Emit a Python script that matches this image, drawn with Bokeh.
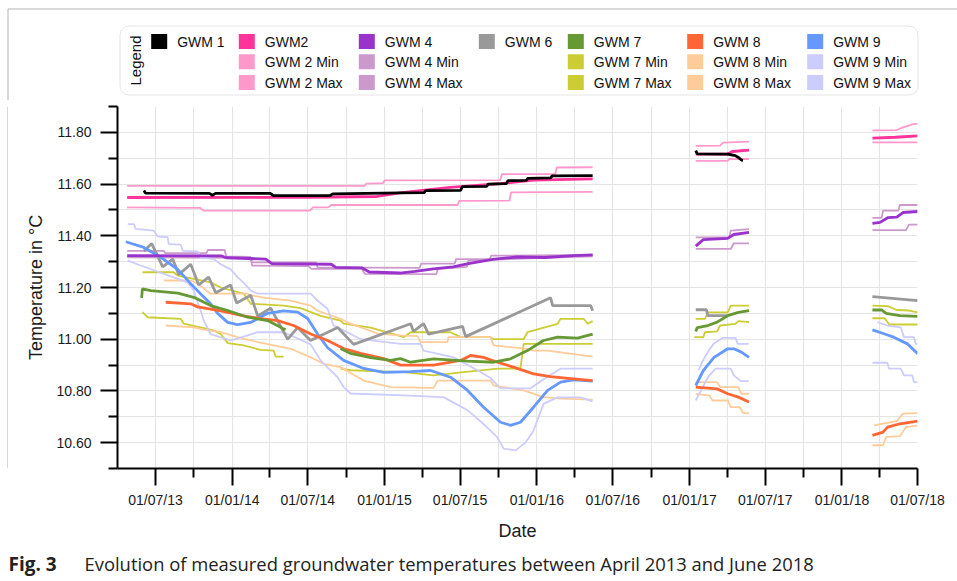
import math
import pandas as pd
from bokeh.plotting import figure
from bokeh.layouts import column, row
from bokeh.models import (Range1d, FixedTicker, DatetimeTickFormatter,
                          PrintfTickFormatter, BoxAnnotation)
from bokeh.core.properties import value
from bokeh.embed import file_html
from bokeh.resources import INLINE

NaN = float("nan")

# ---------------- data (time in decimal years, temperature in °C) ----------------
GWM1_T = [2013.42, 2013.43, 2013.85, 2013.87, 2013.89, 2014.25, 2014.27, 2014.64, 2014.66, 2015.10, 2015.26,
          2015.27, 2015.50, 2015.51, 2015.67, 2015.68, 2015.80, 2015.81, 2015.93, 2015.94, 2016.09, 2016.10,
          2016.365, NaN, 2017.04, 2017.05, 2017.25, 2017.30, 2017.32, 2017.34, 2017.35]
GWM1_V = [11.575, 11.565, 11.564, 11.557, 11.564, 11.564, 11.555, 11.555, 11.562, 11.566, 11.567,
          11.575, 11.576, 11.590, 11.591, 11.600, 11.602, 11.613, 11.614, 11.622, 11.624, 11.632,
          11.633, NaN, 11.729, 11.717, 11.716, 11.710, 11.703, 11.693, 11.692]

GWM2_T = [2013.31, 2014.50, 2014.95, 2015.10, 2015.43, 2015.76, 2015.98, 2016.365, NaN,
          2017.04, 2017.25, 2017.28, 2017.39, NaN, 2018.20, 2018.35, 2018.497]
GWM2_V = [11.548, 11.549, 11.552, 11.566, 11.587, 11.602, 11.615, 11.620, NaN,
          11.716, 11.716, 11.726, 11.731, NaN, 11.778, 11.781, 11.786]

GWM2_MAX_T = [2013.31, 2014.87, 2014.88, 2014.99, 2015.00, 2015.76, 2015.77, 2016.12, 2016.13, 2016.365, NaN,
              2017.04, 2017.20, 2017.22, 2017.39, NaN, 2018.20, 2018.36, 2018.40, 2018.47, 2018.497]
GWM2_MAX_V = [11.593, 11.593, 11.602, 11.604, 11.614, 11.615, 11.638, 11.639, 11.664, 11.665, NaN,
              11.748, 11.749, 11.760, 11.764, NaN, 11.808, 11.809, 11.819, 11.832, 11.834]

GWM2_MIN_T = [2013.31, 2013.79, 2013.81, 2014.51, 2014.53, 2014.63, 2014.65, 2015.48, 2015.49, 2015.82, 2015.83,
              2016.365, NaN, 2017.04, 2017.25, 2017.26, 2017.39, NaN, 2018.20, 2018.497]
GWM2_MIN_V = [11.510, 11.508, 11.497, 11.497, 11.510, 11.510, 11.519, 11.519, 11.535, 11.536, 11.568,
              11.570, NaN, 11.690, 11.690, 11.697, 11.697, NaN, 11.761, 11.761]

GWM4_T = [2013.31, 2013.93, 2013.96, 2014.22, 2014.26, 2014.65, 2014.68, 2014.85, 2014.90, 2015.10, 2015.20,
          2015.32, 2015.45, 2015.55, 2015.72, 2015.87, 2016.05, 2016.24, 2016.365, NaN,
          2017.04, 2017.09, 2017.25, 2017.29, 2017.39, NaN, 2018.20, 2018.25, 2018.30, 2018.36, 2018.40, 2018.497]
GWM4_V = [11.323, 11.322, 11.315, 11.310, 11.292, 11.290, 11.278, 11.276, 11.260, 11.256, 11.262,
          11.272, 11.280, 11.292, 11.310, 11.318, 11.316, 11.323, 11.326, NaN,
          11.360, 11.385, 11.390, 11.405, 11.413, NaN, 11.448, 11.452, 11.470, 11.472, 11.490, 11.494]

GWM4_MAX_T = [2013.31, 2013.55, 2013.56, 2013.83, 2013.84, 2013.95, 2013.96, 2014.12, 2014.13, 2014.55, 2014.56,
              2015.23, 2015.24, 2015.46, 2015.47, 2015.69, 2015.70, 2016.365, NaN,
              2017.04, 2017.26, 2017.27, 2017.39, NaN, 2018.20, 2018.26, 2018.27, 2018.37, 2018.38, 2018.497]
GWM4_MAX_V = [11.342, 11.342, 11.333, 11.333, 11.345, 11.345, 11.320, 11.318, 11.297, 11.297, 11.278,
              11.276, 11.292, 11.292, 11.310, 11.310, 11.323, 11.326, NaN,
              11.394, 11.395, 11.420, 11.426, NaN, 11.469, 11.469, 11.497, 11.497, 11.519, 11.519]

GWM4_MIN_T = [2013.31, 2014.12, 2014.13, 2014.50, 2014.52, 2014.85, 2014.87, 2015.34, 2015.35, 2015.54, 2015.55,
              2016.20, 2016.365, NaN, 2017.04, 2017.27, 2017.29, 2017.39, NaN, 2018.20, 2018.42, 2018.44, 2018.497]
GWM4_MIN_V = [11.317, 11.315, 11.285, 11.283, 11.272, 11.272, 11.253, 11.252, 11.272, 11.280, 11.304,
              11.318, 11.320, NaN, 11.349, 11.349, 11.371, 11.371, NaN, 11.422, 11.422, 11.443, 11.443]

GWM6_T = [2013.419, 2013.471, 2013.543, 2013.609, 2013.648, 2013.727, 2013.780, 2013.845, 2013.891, 2013.989,
          2014.029, 2014.121, 2014.167, 2014.252, 2014.364, 2014.429, 2014.514, 2014.692, 2014.797, 2015.171,
          2015.190, 2015.256, 2015.289, 2015.512, 2015.532, 2016.090, 2016.103, 2016.352, 2016.365, NaN,
          2017.04, 2017.11, 2017.12, 2017.25, NaN, 2018.20, 2018.497]
GWM6_V = [11.34, 11.37, 11.28, 11.31, 11.25, 11.29, 11.21, 11.24, 11.18, 11.21,
          11.14, 11.17, 11.09, 11.12, 11.00, 11.045, 10.995, 11.045, 10.98, 11.06,
          11.03, 11.06, 11.02, 11.05, 11.01, 11.16, 11.13, 11.13, 11.11, NaN,
          11.114, 11.114, 11.091, 11.091, NaN, 11.165, 11.149]

GWM7_T = [2013.405, 2013.41, 2013.465, 2013.642, 2013.747, 2013.858, 2013.970, 2014.101, 2014.232, 2014.337,
          2014.35, NaN, 2014.711, 2014.777, 2014.908, 2015.039, 2015.105, 2015.171, 2015.322, 2015.545,
          2015.716, 2015.827, 2015.938, 2016.043, 2016.135, 2016.266, 2016.365, NaN,
          2017.04, 2017.05, 2017.12, 2017.18, 2017.25, 2017.32, 2017.39, NaN,
          2018.20, 2018.26, 2018.29, 2018.38, 2018.497]
GWM7_V = [11.16, 11.195, 11.188, 11.178, 11.162, 11.13, 11.111, 11.085, 11.072, 11.04,
          11.037, NaN, 10.964, 10.945, 10.929, 10.918, 10.925, 10.911, 10.924, 10.915,
          10.911, 10.924, 10.956, 10.995, 11.008, 11.004, 11.02, NaN,
          11.03, 11.045, 11.053, 11.066, 11.091, 11.104, 11.111, NaN,
          11.113, 11.113, 11.10, 11.091, 11.088]

GWM7_MAX_T = [2013.41, 2013.615, 2013.642, 2013.747, 2013.858, 2013.924, 2014.075, 2014.121, 2014.337, 2014.449,
              2014.58, 2014.711, 2014.731, 2014.908, 2015.059, 2015.125, 2015.171, 2015.433, 2015.499, 2015.695,
              2015.716, 2015.913, 2015.938, 2016.135, 2016.155, 2016.306, 2016.332, 2016.365, NaN,
              2017.04, 2017.10, 2017.12, 2017.25, 2017.27, 2017.39, NaN,
              2018.20, 2018.30, 2018.36, 2018.44, 2018.497]
GWM7_MAX_V = [11.259, 11.259, 11.246, 11.233, 11.22, 11.20, 11.176, 11.137, 11.13, 11.12,
              11.09, 11.072, 11.06, 11.045, 11.02, 11.008, 11.027, 11.027, 11.008, 11.008,
              11.0, 11.0, 11.027, 11.059, 11.079, 11.079, 11.06, 11.07, NaN,
              11.079, 11.079, 11.104, 11.104, 11.13, 11.13, NaN,
              11.13, 11.128, 11.113, 11.111, 11.104]

GWM7_MIN_T = [2013.41, 2013.443, 2013.661, 2013.681, 2013.878, 2013.924, 2013.970, 2014.075, 2014.186, 2014.272,
              2014.285, 2014.337, NaN, 2014.711, 2014.777, 2015.125, 2015.322, 2015.52, 2015.743, 2015.892,
              2015.913, 2016.365, NaN, 2017.03, 2017.09, 2017.10, 2017.18, 2017.20, 2017.30, 2017.32, 2017.39, NaN,
              2018.20, 2018.28, 2018.31, 2018.497]
GWM7_MIN_V = [11.105, 11.085, 11.079, 11.06, 11.034, 11.02, 10.985, 10.976, 10.959, 10.956,
              10.933, 10.933, NaN, 10.886, 10.88, 10.873, 10.86, 10.873, 10.886, 10.886,
              10.982, 10.982, NaN, 11.008, 11.008, 11.027, 11.03, 11.053, 11.059, 11.07, 11.066, NaN,
              11.081, 11.081, 11.057, 11.057]

GWM8_T = [2013.563, 2013.727, 2013.773, 2013.924, 2014.075, 2014.186, 2014.298, 2014.403, 2014.515, 2014.626,
          2014.731, 2014.843, 2014.994, 2015.105, 2015.322, 2015.499, 2015.564, 2015.65, 2015.741, 2015.846,
          2015.978, 2016.089, 2016.24, 2016.365, NaN, 2017.04, 2017.18, 2017.25, 2017.32, 2017.39, NaN,
          2018.20, 2018.27, 2018.30, 2018.38, 2018.497]
GWM8_V = [11.143, 11.137, 11.125, 11.11, 11.09, 11.08, 11.072, 11.053, 11.02, 10.995,
          10.964, 10.945, 10.925, 10.90, 10.90, 10.918, 10.937, 10.93, 10.911, 10.892,
          10.866, 10.855, 10.847, 10.84, NaN, 10.815, 10.808, 10.789, 10.776, 10.757, NaN,
          10.628, 10.641, 10.66, 10.673, 10.683]

GWM8_MAX_T = [2013.551, 2013.727, 2013.773, 2013.858, 2014.101, 2014.121, 2014.219, 2014.383, 2014.515, 2014.56,
              2014.711, 2014.777, 2014.954, 2015.125, 2015.217, 2015.236, 2015.413, 2015.419, 2015.695, 2015.716,
              2015.938, 2015.978, 2016.07, 2016.365, NaN, 2017.04, 2017.18, 2017.20, 2017.32, 2017.34, 2017.39, NaN,
              2018.21, 2018.36, 2018.40, 2018.497]
GWM8_MAX_V = [11.227, 11.227, 11.215, 11.176, 11.176, 11.17, 11.16, 11.149, 11.13, 11.11,
              11.079, 11.06, 11.022, 11.014, 11.012, 10.989, 10.989, 11.008, 11.008, 10.976,
              10.963, 10.956, 10.956, 10.933, NaN, 10.834, 10.834, 10.815, 10.815, 10.789, 10.789, NaN,
              10.667, 10.683, 10.712, 10.714]

GWM8_MIN_T = [2013.563, 2013.747, 2013.839, 2013.924, 2014.036, 2014.167, 2014.383, 2014.515, 2014.599, 2014.711,
              2014.862, 2015.039, 2015.322, 2015.348, 2015.695, 2015.716, 2015.913, 2016.043, 2016.155, 2016.365, NaN,
              2017.04, 2017.13, 2017.15, 2017.25, 2017.27, 2017.33, 2017.35, 2017.39, NaN,
              2018.20, 2018.27, 2018.29, 2018.38, 2018.42, 2018.497]
GWM8_MIN_V = [11.053, 11.046, 11.034, 11.027, 11.008, 10.989, 10.963, 10.93, 10.905, 10.892,
              10.84, 10.815, 10.812, 10.84, 10.84, 10.821, 10.802, 10.776, 10.77, 10.766, NaN,
              10.789, 10.782, 10.763, 10.763, 10.737, 10.737, 10.714, 10.714, NaN,
              10.59, 10.59, 10.622, 10.625, 10.66, 10.667]

GWM9_T = [2013.301, 2013.419, 2013.53, 2013.642, 2013.727, 2013.793, 2013.858, 2013.904, 2013.97, 2014.035,
          2014.121, 2014.232, 2014.337, 2014.429, 2014.495, 2014.56, 2014.626, 2014.731, 2014.862, 2014.994,
          2015.171, 2015.302, 2015.433, 2015.545, 2015.65, 2015.761, 2015.827, 2015.892, 2015.978, 2016.07,
          2016.155, 2016.24, 2016.365, NaN, 2017.04, 2017.09, 2017.16, 2017.25, 2017.29, 2017.34, 2017.39, NaN,
          2018.20, 2018.28, 2018.34, 2018.43, 2018.497]
GWM9_V = [11.377, 11.355, 11.317, 11.27, 11.215, 11.175, 11.137, 11.10, 11.065, 11.056,
          11.065, 11.10, 11.11, 11.105, 11.08, 11.02, 10.967, 10.918, 10.887, 10.872,
          10.875, 10.879, 10.853, 10.802, 10.737, 10.679, 10.667, 10.679, 10.737, 10.802,
          10.834, 10.843, 10.838, NaN, 10.821, 10.879, 10.93, 10.963, 10.963, 10.95, 10.93, NaN,
          11.036, 11.02, 11.008, 10.982, 10.944]

GWM9_MAX_T = [2013.314, 2013.354, 2013.366, 2013.484, 2013.51, 2013.576, 2013.583, 2013.661, 2013.675, 2013.773,
              2013.793, 2013.878, 2013.924, 2013.99, 2014.035, 2014.088, 2014.121, 2014.167, 2014.515, 2014.56,
              2014.626, 2014.665, 2014.731, 2014.843, 2015.105, 2015.236, 2015.256, 2015.453, 2015.61, 2015.695,
              2015.761, 2015.958, 2016.056, 2016.155, 2016.365, NaN,
              2017.06, 2017.087, 2017.126, 2017.157, 2017.216, 2017.302, 2017.316, 2017.388, NaN,
              2018.233, 2018.298, 2018.386, 2018.407, 2018.472, 2018.484, 2018.497]
GWM9_MAX_V = [11.445, 11.445, 11.427, 11.42, 11.397, 11.395, 11.368, 11.366, 11.342, 11.34,
              11.317, 11.31, 11.29, 11.27, 11.24, 11.21, 11.188, 11.176, 11.176, 11.149,
              11.118, 11.053, 11.034, 11.0, 10.982, 10.982, 10.956, 10.93, 10.88, 10.85,
              10.81, 10.81, 10.85, 10.886, 10.886, NaN,
              10.88, 10.918, 10.956, 10.982, 11.005, 11.005, 10.982, 10.982, NaN,
              11.066, 11.053, 11.046, 11.008, 11.008, 10.982, 10.982]

GWM9_MIN_T = [2013.314, 2013.399, 2013.55, 2013.707, 2013.747, 2013.773, 2013.793, 2013.813, 2013.858, 2013.99,
              2014.167, 2014.337, 2014.515, 2014.58, 2014.626, 2014.692, 2014.731, 2014.777, 2015.171, 2015.39,
              2015.545, 2015.65, 2015.741, 2015.781, 2015.86, 2015.925, 2015.978, 2016.043, 2016.135, 2016.286,
              2016.365, NaN, 2017.04, 2017.12, 2017.171, 2017.27, 2017.29, 2017.336, 2017.388, NaN,
              2018.20, 2018.298, 2018.309, 2018.386, 2018.407, 2018.462, 2018.472, 2018.497]
GWM9_MIN_V = [11.304, 11.285, 11.253, 11.22, 11.188, 11.143, 11.11, 11.072, 11.02, 10.995,
              11.027, 11.027, 10.98, 10.918, 10.89, 10.853, 10.815, 10.79, 10.782, 10.775,
              10.725, 10.672, 10.62, 10.577, 10.57, 10.60, 10.647, 10.75, 10.775, 10.775,
              10.76, NaN, 10.763, 10.853, 10.886, 10.886, 10.86, 10.838, 10.838, NaN,
              10.909, 10.909, 10.886, 10.886, 10.86, 10.86, 10.834, 10.834]

# axis ticks
X_START, X_END = "2013-04-01", "2018-07-01"
X_MAJOR = ["2013-07-01", "2014-01-01", "2014-07-01", "2015-01-01", "2015-07-01", "2016-01-01",
           "2016-07-01", "2017-01-01", "2017-07-01", "2018-01-01", "2018-07-01"]
X_MINOR = ["2013-10-01", "2014-04-01", "2014-10-01", "2015-04-01", "2015-10-01", "2016-04-01",
           "2016-10-01", "2017-04-01", "2017-10-01", "2018-04-01"]
Y_MAJOR = [10.6, 10.8, 11.0, 11.2, 11.4, 11.6, 11.8]
Y_MINOR = [10.5, 10.7, 10.9, 11.1, 11.3, 11.5, 11.7, 11.9]

LEGEND_LABELS = ["GWM 1", "GWM2", "GWM 2 Min", "GWM 2 Max", "GWM 4", "GWM 4 Min", "GWM 4 Max", "GWM 6",
                 "GWM 7", "GWM 7 Min", "GWM 7 Max", "GWM 8", "GWM 8 Min", "GWM 8 Max",
                 "GWM 9", "GWM 9 Min", "GWM 9 Max"]
LEGEND_COL = [0, 1, 1, 1, 2, 2, 2, 3, 4, 4, 4, 5, 5, 5, 6, 6, 6]
LEGEND_ROW = [0, 0, 1, 2, 0, 1, 2, 0, 0, 1, 2, 0, 1, 2, 0, 1, 2]

CAPTION_BOLD = "Fig. 3"
CAPTION_TEXT = "Evolution of measured groundwater temperatures between April 2013 and June 2018"

# ---------------- styles ----------------
C = {
    "GWM 1": "#000000", "GWM2": "#ff3399", "GWM 2 Min": "#ff99cc", "GWM 2 Max": "#ff99cc",
    "GWM 4": "#9933cc", "GWM 4 Min": "#cc99cc", "GWM 4 Max": "#cc99cc", "GWM 6": "#999999",
    "GWM 7": "#669933", "GWM 7 Min": "#cccc33", "GWM 7 Max": "#cccc33",
    "GWM 8": "#ff6633", "GWM 8 Min": "#ffcc99", "GWM 8 Max": "#ffcc99",
    "GWM 9": "#6699ff", "GWM 9 Min": "#ccccff", "GWM 9 Max": "#ccccff",
}
FONT = "Liberation Sans"
BORDER = "#b3b3b3"


def d2ms(s):
    return pd.Timestamp(s).value / 1e6


def yr2ms(t):
    if t != t:
        return NaN
    y = int(math.floor(t))
    a = pd.Timestamp(year=y, month=1, day=1)
    b = pd.Timestamp(year=y + 1, month=1, day=1)
    return (a + (b - a) * (t - y)).value / 1e6


# ---------------- legend strip (page y 0..100) ----------------
LW, LH = 957, 100
leg = figure(width=LW, height=LH, x_range=Range1d(0, LW), y_range=Range1d(0, LH),
             min_border=0, toolbar_location=None, output_backend="svg",
             x_axis_location=None, y_axis_location=None)
leg.grid.visible = False
leg.outline_line_color = None
leg.background_fill_color = "white"
leg.border_fill_color = "white"

leg.segment(x0=[7.5, 7.5], y0=[LH - 8.5, LH - 8.5], x1=[LW, 7.5], y1=[LH - 8.5, 0],
            line_color=BORDER, line_width=1)
leg.add_layout(BoxAnnotation(left=119.5, right=917.5, top=LH - 25.5, bottom=LH - 94.5,
                             fill_color=None, line_color="#aaaaaa", line_width=1,
                             border_radius=9, level="underlay"))
leg.text(x=[135], y=[LH - 60], text=["Legend"], angle=math.pi / 2, text_align="center",
         text_baseline="middle", text_font=value(FONT), text_font_size=value("15px"), text_color="#111111")

col_x = [150.7, 238.3, 358.3, 478.3, 567.3, 686.7, 806.7]
row_y = [41, 61.3, 82]
sq_x = [col_x[c] + 8 for c in LEGEND_COL]
sq_y = [LH - row_y[r] for r in LEGEND_ROW]
leg.rect(x=sq_x, y=sq_y, width=16, height=15, fill_color=[C[l] for l in LEGEND_LABELS], line_color=None)
leg.text(x=[col_x[c] + 26 for c in LEGEND_COL], y=sq_y, text=LEGEND_LABELS, text_align="left",
         text_baseline="middle", text_font=value(FONT), text_font_size=value("14px"), text_color="#111111")

# ---------------- left border strip ----------------
MH = 445
strip = figure(width=8, height=MH, x_range=Range1d(0, 8), y_range=Range1d(0, MH),
               min_border=0, toolbar_location=None, output_backend="svg",
               x_axis_location=None, y_axis_location=None)
strip.grid.visible = False
strip.outline_line_color = None
strip.segment(x0=[7.5], y0=[0], x1=[7.5], y1=[MH], line_color=BORDER, line_width=1)

# ---------------- main chart ----------------
p = figure(width=949, height=MH, x_axis_type="datetime",
           x_range=Range1d(d2ms(X_START), d2ms(X_END)), y_range=Range1d(10.5, 11.9),
           min_border_left=109, min_border_right=40, min_border_top=6, min_border_bottom=77,
           toolbar_location=None, output_backend="svg")
p.outline_line_color = None
p.background_fill_color = "white"
p.border_fill_color = "white"

p.xaxis.ticker = FixedTicker(ticks=[d2ms(s) for s in X_MAJOR], minor_ticks=[d2ms(s) for s in X_MINOR])
fmt = "%d/%m/%y"
p.xaxis.formatter = DatetimeTickFormatter(microseconds=fmt, milliseconds=fmt, seconds=fmt, minsec=fmt,
                                          minutes=fmt, hourmin=fmt, hours=fmt, days=fmt, months=fmt, years=fmt)
p.yaxis.ticker = FixedTicker(ticks=Y_MAJOR, minor_ticks=Y_MINOR)
p.yaxis.formatter = PrintfTickFormatter(format="%.2f")

p.xgrid.ticker = FixedTicker(ticks=sorted([d2ms(s) for s in X_MAJOR + X_MINOR]))
p.ygrid.ticker = FixedTicker(ticks=sorted(Y_MAJOR + Y_MINOR))
for g in (p.xgrid[0], p.ygrid[0]):
    g.grid_line_color = "#e4e4e4"
    g.grid_line_width = 1

for ax in (p.xaxis[0], p.yaxis[0]):
    ax.axis_line_width = 2
    ax.axis_line_color = "black"
    ax.major_tick_line_width = 2
    ax.minor_tick_line_width = 2
    ax.major_tick_line_color = "black"
    ax.minor_tick_line_color = "black"
    ax.major_tick_out = 17
    ax.major_tick_in = 0
    ax.minor_tick_out = 9
    ax.minor_tick_in = 0
    ax.major_label_text_font = FONT
    ax.major_label_text_font_size = "14px"
    ax.major_label_text_color = "#1a1a1a"
    ax.axis_label_text_font = FONT
    ax.axis_label_text_font_size = "18px"
    ax.axis_label_text_font_style = "normal"
    ax.axis_label_text_color = "#1a1a1a"

p.xaxis.axis_label = "Date"
p.yaxis.axis_label = "Temperature in °C"
p.xaxis.major_label_standoff = 6
p.yaxis.major_label_standoff = 9
p.xaxis.axis_label_standoff = 10
p.yaxis.axis_label_standoff = 7

minmax = [
    ("GWM 2 Min", GWM2_MIN_T, GWM2_MIN_V), ("GWM 2 Max", GWM2_MAX_T, GWM2_MAX_V),
    ("GWM 4 Min", GWM4_MIN_T, GWM4_MIN_V), ("GWM 4 Max", GWM4_MAX_T, GWM4_MAX_V),
    ("GWM 7 Min", GWM7_MIN_T, GWM7_MIN_V), ("GWM 7 Max", GWM7_MAX_T, GWM7_MAX_V),
    ("GWM 8 Min", GWM8_MIN_T, GWM8_MIN_V), ("GWM 8 Max", GWM8_MAX_T, GWM8_MAX_V),
    ("GWM 9 Min", GWM9_MIN_T, GWM9_MIN_V), ("GWM 9 Max", GWM9_MAX_T, GWM9_MAX_V),
]
mains = [
    ("GWM 6", GWM6_T, GWM6_V), ("GWM 9", GWM9_T, GWM9_V), ("GWM 8", GWM8_T, GWM8_V),
    ("GWM 7", GWM7_T, GWM7_V), ("GWM 4", GWM4_T, GWM4_V), ("GWM2", GWM2_T, GWM2_V),
    ("GWM 1", GWM1_T, GWM1_V),
]
for name, t, v in minmax:
    p.line(x=[yr2ms(a) for a in t], y=v, line_color=C[name], line_width=1.8)
for name, t, v in mains:
    p.line(x=[yr2ms(a) for a in t], y=v, line_color=C[name], line_width=2.8)

# ---------------- caption (page y 545..581) ----------------
CH = 36
cap = figure(width=957, height=CH, x_range=Range1d(0, 957), y_range=Range1d(0, CH),
             min_border=0, toolbar_location=None, output_backend="svg",
             x_axis_location=None, y_axis_location=None)
cap.grid.visible = False
cap.outline_line_color = None
cap.text(x=[8], y=[CH - 18], text=[CAPTION_BOLD], text_align="left", text_baseline="middle",
         text_font=value("Open Sans"), text_font_size=value("19px"), text_font_style="bold",
         text_color="#222222")
cap.text(x=[84], y=[CH - 18], text=[CAPTION_TEXT], text_align="left", text_baseline="middle",
         text_font=value("Open Sans"), text_font_size=value("18.4px"), text_color="#222222")

layout = column(leg, row(strip, p), cap)
open("out.html", "w").write(file_html(layout, INLINE))
